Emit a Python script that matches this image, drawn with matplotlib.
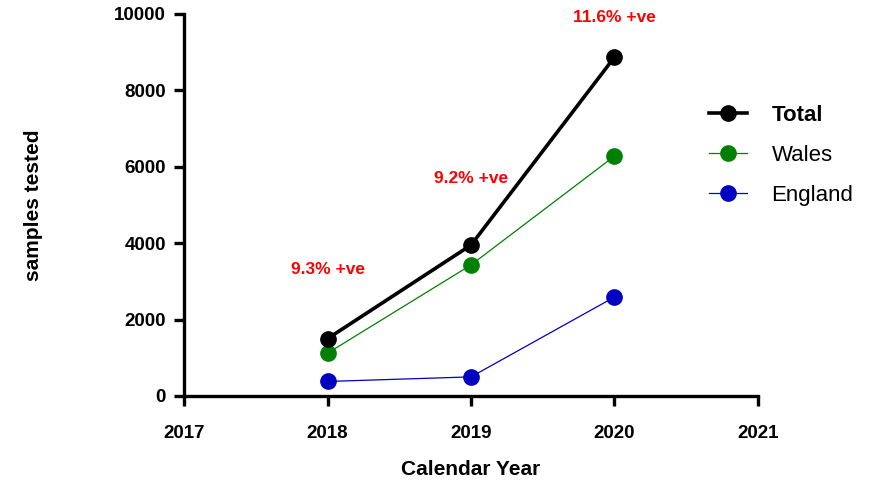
import matplotlib.pyplot as plt

years = [2018, 2019, 2020]
total = [1500, 3950, 8870]
wales = [1120, 3430, 6280]
england = [380, 500, 2590]

pos_labels = ["9.3% +ve", "9.2% +ve", "11.6% +ve"]
pos_y = [3300, 5700, 9900]

plt.rcParams["font.family"] = ["Liberation Sans", "DejaVu Sans"]

fig = plt.figure(figsize=(8.78, 4.87), dpi=100)
ax = fig.add_axes([0.2096, 0.1869, 0.6537, 0.7844])

ax.plot(years, total, color="black", linewidth=2.6, marker="o", markersize=11, label="Total", zorder=4)
ax.plot(years, wales, color="#008000", linewidth=0.9, marker="o", markersize=11, label="Wales", zorder=3)
ax.plot(years, england, color="#0000c0", linewidth=0.9, marker="o", markersize=11, label="England", zorder=3)

for x, y, s in zip(years, pos_y, pos_labels):
    ax.text(x, y, s, color="red", fontsize=12.5, fontweight="bold", ha="center", va="center")

ax.set_xlim(2017, 2021)
ax.set_ylim(0, 10000)
ax.set_xticks([2017, 2018, 2019, 2020, 2021])
ax.set_yticks([0, 2000, 4000, 6000, 8000, 10000])

for side in ["top", "right"]:
    ax.spines[side].set_visible(False)
for side in ["left", "bottom"]:
    ax.spines[side].set_linewidth(2.4)

ax.tick_params(width=2.4, length=7, labelsize=13.5, pad=6)
for lab in ax.get_xticklabels() + ax.get_yticklabels():
    lab.set_fontweight("bold")
ax.tick_params(axis="x", pad=14)

ax.set_xlabel("Calendar Year", fontsize=15, fontweight="bold", labelpad=13)
ax.set_ylabel("samples tested", fontsize=15, fontweight="bold")
ax.yaxis.set_label_coords(-0.245, 0.5)

leg = fig.legend(loc="upper left", bbox_to_anchor=(0.785, 0.825), frameon=False,
                 fontsize=16, handlelength=1.7, labelspacing=0.85, handletextpad=1.1)
leg.get_texts()[0].set_fontweight("bold")

fig.savefig("out.png", dpi=100)
